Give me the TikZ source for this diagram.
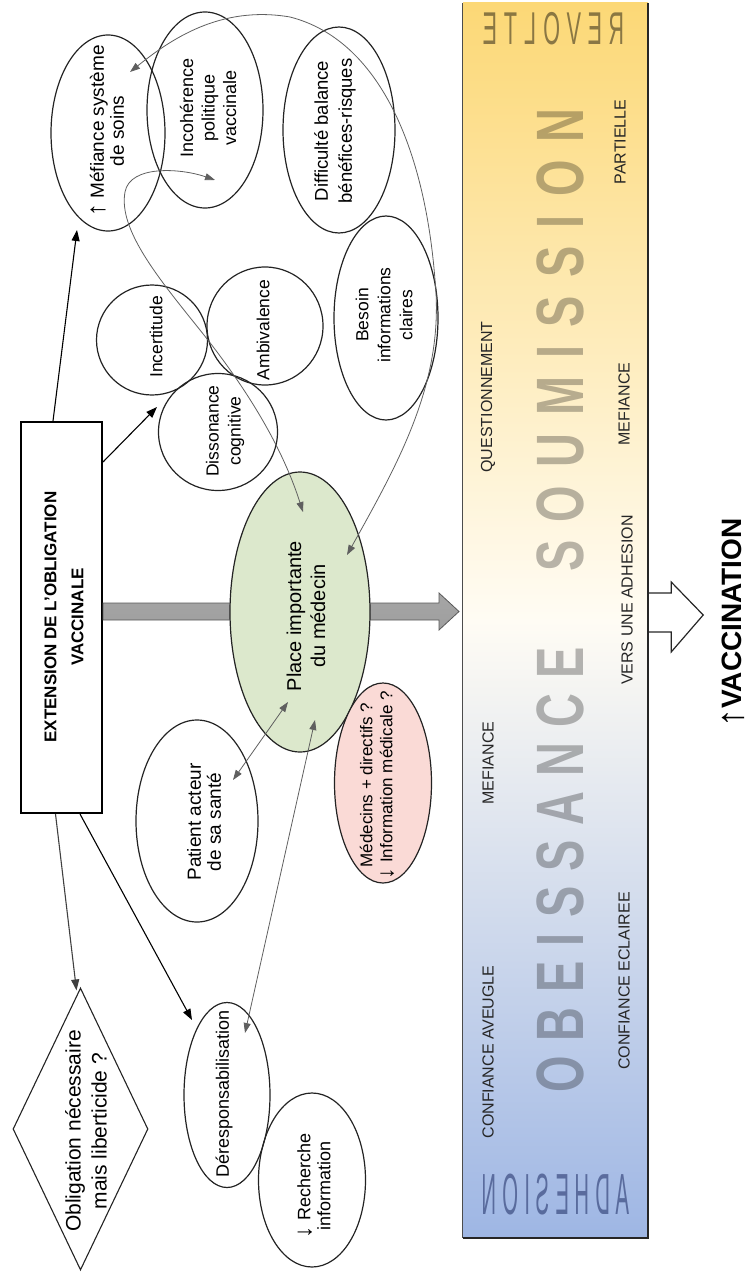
\documentclass[tikz,border=0pt]{standalone}
\usepackage{fontspec}
\usepackage{graphicx}
\setmainfont{Liberation Sans}
\usetikzlibrary{shapes.geometric,arrows.meta,calc}
\definecolor{elldraw}{RGB}{35,35,35}
\definecolor{greenfill}{RGB}{220,232,204}
\definecolor{pinkfill}{RGB}{250,218,214}
\definecolor{bandtop}{RGB}{252,216,118}
\definecolor{bandmid}{RGB}{255,252,244}
\definecolor{bandbot}{RGB}{158,182,228}
\definecolor{grayline}{RGB}{95,95,95}
\definecolor{adhcol}{RGB}{40,55,110}
\newcommand\fsz[2]{\fontsize{#1}{#2}\selectfont}
\newcommand\uparr{\raisebox{-0.05em}{\scalebox{1.35}{↑}}}
\newcommand\dnarr{\raisebox{-0.05em}{\scalebox{1.35}{↓}}}
\begin{document}
\begin{tikzpicture}[x=1pt,y=-1pt,
  ell/.style={ellipse, draw=elldraw, line width=1.2pt, inner sep=0pt},
  lbl/.style={rotate=90, align=center, inner sep=0pt},
  bandlbl/.style={rotate=90, inner sep=0pt, text=black!85, font={\fsz{16}{16}}},
  bigword/.style={rotate=90, inner sep=0pt, text=black, text opacity=0.28, font=\bfseries},
  blk/.style={draw=black, line width=1.1pt, arrows={-Triangle[length=11pt,width=8pt]}},
  blkg/.style={draw=black!75, line width=1.1pt, arrows={-Triangle[length=11pt,width=8pt]}},
  gry/.style={draw=grayline, line width=0.8pt, arrows={Triangle[length=10pt,width=7pt]-Triangle[length=10pt,width=7pt]}}
]
\useasboundingbox (0,0) rectangle (755,1273);

% ---------- band ----------
\node[minimum width=185pt, minimum height=1235pt, inner sep=0pt,
      top color=bandtop, bottom color=bandbot, middle color=bandmid] (band) at (555.5,620.5) {};

\node[bigword] (wsoum) at (560,340) {\scalebox{0.7}[1]{\fsz{67}{67}S\kern26pt O\kern26pt U\kern26pt M\kern26pt I\kern26pt S\kern26pt S\kern26pt I\kern26pt O\kern26pt N}};
\node[bigword] (wobei) at (560,870) {\scalebox{0.7}[1]{\fsz{67}{67}O\kern21.5pt B\kern21.5pt E\kern21.5pt I\kern21.5pt S\kern21.5pt S\kern21.5pt A\kern21.5pt N\kern21.5pt C\kern21.5pt E}};
\node[inner sep=0pt, text=black, text opacity=0.45] (wrev) at (554,29) {\scalebox{-0.47}[1]{\fsz{46}{46}R\kern14.5pt E\kern14.5pt V\kern14.5pt O\kern14.5pt L\kern14.5pt T\kern14.5pt E}};
\node[inner sep=0pt, text=adhcol, text opacity=0.6] (wadh) at (556,1195) {\scalebox{-0.35}[1]{\fsz{58}{58}A\kern17pt D\kern17pt H\kern17pt E\kern17pt S\kern17pt I\kern17pt O\kern17pt N}};

\node[bandlbl] (l1) at (488,1052) {CONFIANCE AVEUGLE};
\node[bandlbl] (l2) at (488,763) {MEFIANCE};
\node[bandlbl] (l3) at (488,397) {QUESTIONNEMENT};
\node[bandlbl] (l4) at (624,981) {CONFIANCE ECLAIREE};
\node[bandlbl] (l5) at (627,600) {VERS UNE ADHESION};
\node[bandlbl] (l6) at (624,404) {MEFIANCE};
\node[bandlbl] (l7) at (620,142) {PARTIELLE};

\draw[draw=black!70, line width=1.3pt] (band.north west) -- (band.south west);
\draw[draw=black!85, line width=2.2pt] (band.south west) -- (band.south east) -- (band.north east);

% ---------- hollow arrow and VACCINATION ----------
\coordinate (ha) at ($(band.east)+(1,-5.5)$);
\draw[line width=1.2pt, draw=black!85] (ha) ++(0,-22) -- ++(22,0) -- ++(0,-11) -- ++(32,33) -- ++(-32,37) -- ++(0,-20) -- ++(-22,0);
\node[lbl, font={\bfseries\fsz{28}{28}}] (vacc) at (733,623) {{\mdseries\uparr}VACCINATION};

% ---------- main rectangle ----------
\node[draw=black, line width=2pt, minimum width=81pt, minimum height=391pt, inner sep=0pt] (ext) at (61.5,617.5) {};
\node[lbl, font={\bfseries\fsz{17}{27}}] (extT) at (64,617) {EXTENSION DE L’OBLIGATION\\VACCINALE};

% ---------- thick gray arrow ----------
\coordinate (gs) at ($(ext.east)+(0,-6)$);
\shade[top color=black!35, middle color=black!10, bottom color=black!38, draw=black!65, line width=0.8pt]
  (gs) ++(0,-8.5) -- ++(336,0) -- ++(0,-10) -- ++(20,18.5) -- ++(-20,18.5) -- ++(0,-10) -- ++(-336,0) -- cycle;

% ---------- ellipses ----------
\node[ell, minimum width=114pt, minimum height=196pt] (mef) at (108,133) {};
\node[ell, minimum width=116pt, minimum height=196pt] (inco) at (205,110) {};
\node[ell, minimum width=112pt, minimum height=206pt] (diff) at (339,130) {};
\node[ell, minimum width=111pt, minimum height=110pt] (inc) at (152,340) {};
\node[ell, minimum width=116pt, minimum height=118pt] (amb) at (265,326) {};
\node[ell, minimum width=119pt, minimum height=117pt] (dis) at (218,432) {};
\node[ell, minimum width=104pt, minimum height=204pt] (bes) at (386,318) {};
\node[ell, fill=greenfill, minimum width=140pt, minimum height=280pt] (place) at (300,612) {};
\node[ell, minimum width=122pt, minimum height=202pt] (pat) at (197,821) {};
\node[ell, fill=pinkfill, minimum width=97pt, minimum height=200pt] (pink) at (383,783) {};
\node[ell, minimum width=86pt, minimum height=185pt] (der) at (227,1095) {};
\node[ell, minimum width=107pt, minimum height=174pt] (rech) at (312,1180) {};
\node[draw=elldraw, line width=1.1pt, diamond, minimum width=135pt, minimum height=282pt, inner sep=0pt] (dia) at (80.5,1129) {};

% ---------- texts ----------
\node[lbl, font={\fsz{19}{20}}] (mefT) at (107,131) {\uparr\ Méfiance système\\de soins};
\node[lbl, font={\fsz{18}{21.5}}] (incoT) at (208,108) {Incohérence\\politique\\vaccinale};
\node[lbl, font={\fsz{18.5}{24}}] (diffT) at (335,131) {Difficulté balance\\bénéfices-risques};
\node[lbl, font={\fsz{17.5}{20}}] (incT) at (156,337) {Incertitude};
\node[lbl, font={\fsz{17.5}{20}}] (ambT) at (263,330) {Ambivalence};
\node[lbl, font={\fsz{17.5}{22}}] (disT) at (225,431) {Dissonance\\cognitive};
\node[lbl, font={\fsz{17.5}{22}}] (besT) at (384,315) {Besoin\\informations\\claires};
\node[lbl, font={\fsz{20}{24}}] (placeT) at (306,616) {Place importante\\du médecin};
\node[lbl, font={\fsz{19}{20}}] (patT) at (204,822) {Patient acteur\\de sa santé};
\node[lbl, font={\fsz{17}{20}}] (pinkT) at (377,785) {Médecins + directifs ?\\\dnarr\ Information médicale ?};
\node[lbl, font={\fsz{18}{20}}] (derT) at (224,1094) {Déresponsabilisation};
\node[lbl, font={\fsz{18}{20}}] (rechT) at (314,1186) {\dnarr\ Recherche\\information};
\node[lbl, font={\fsz{21}{26}}] (diaT) at (86,1131) {Obligation nécessaire\\mais liberticide ?};

% ---------- connectors ----------
\draw[blk] ($(ext.north)+(-8.5,0)$) -- ($(mef)+(-31,97)$);
\draw[blk] ($(ext.north east)+(0,41)$) -- ($(dis)+(-61,-25)$);
\draw[blkg] ($(ext.south)+(-6,0)$) -- ($(dia.north)+(-4,3)$);
\draw[blk] ($(ext.south)+(18.5,0)$) -- ($(der)+(-35,-75)$);

\draw[gry] ($(pat)+(36,-41)$) -- ($(place)+(-12,90)$);
\draw[gry] ($(der)+(18,-62)$) -- ($(place)+(15,108)$);
\draw[gry] ($(place)+(3,-100)$) .. controls (280,440) and (240,380) .. (200,330)
   .. controls (160,280) and (118,230) .. (125,192)
   .. controls (130,165) and (180,168) .. ($(inco)+(10,70)$);
\draw[gry] ($(place)+(47,-57)$) .. controls (400,460) and (445,380) .. (435,280)
   .. controls (425,150) and (380,40) .. (290,17)
   .. controls (220,5) and (170,40) .. ($(mef)+(22,-61)$);
\end{tikzpicture}
\end{document}
